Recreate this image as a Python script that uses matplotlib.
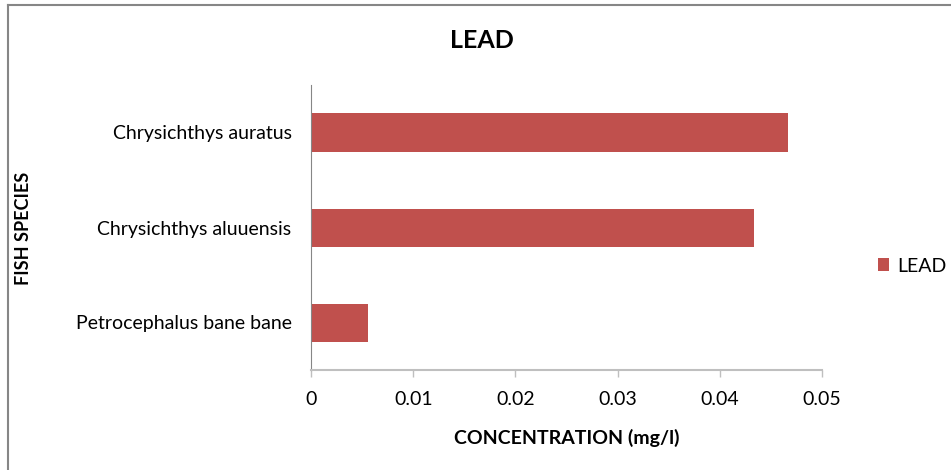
import matplotlib
matplotlib.use("Agg")
import matplotlib.pyplot as plt
from matplotlib.lines import Line2D

categories = ["Petrocephalus bane bane", "Chrysichthys aluuensis", "Chrysichthys auratus"]
values = [0.0056, 0.0433, 0.0467]
xticks = [0, 0.01, 0.02, 0.03, 0.04, 0.05]
xticklabels = ["0", "0.01", "0.02", "0.03", "0.04", "0.05"]
series_name = "LEAD"

plt.rcParams['font.family'] = ['Lato', 'DejaVu Sans']

fig = plt.figure(figsize=(9.51, 4.70), dpi=100)
W, H = 951, 470
ax = fig.add_axes([311 / W, (H - 370) / H, (822 - 311) / W, (370 - 85) / H])

ax.barh(range(len(categories)), values, height=0.4, color="#C0504D", label=series_name)
ax.set_xlim(0, 0.05)
ax.set_ylim(-0.5, len(categories) - 0.5)
ax.set_xticks(xticks)
ax.set_xticklabels(xticklabels, fontsize=14)
ax.set_yticks(range(len(categories)))
ax.set_yticklabels(categories, fontsize=14)
ax.tick_params(axis='y', length=0, pad=14)
ax.tick_params(axis='x', length=5, color="#BFBFBF", width=1, pad=10)

for s in ["top", "right"]:
    ax.spines[s].set_visible(False)
ax.spines["left"].set_color("#868686")
ax.spines["bottom"].set_color("#BFBFBF")
ax.spines["bottom"].set_linewidth(1.5)

ax.set_xlabel("CONCENTRATION (mg/l)", fontsize=14, fontweight="bold", labelpad=15)
fig.text(24 / W, 1 - 228 / H, "FISH SPECIES", rotation=90, fontsize=13,
         fontweight="bold", ha="center", va="center")
fig.text(482 / W, 1 - 40 / H, "LEAD", fontsize=18, fontweight="bold",
         ha="center", va="center")

leg = fig.legend(handles=ax.containers[0][:1], labels=[series_name], loc="center left",
                 bbox_to_anchor=(860 / W, 1 - 266 / H), frameon=False, fontsize=14,
                 handlelength=0.6, handleheight=0.6, handletextpad=0.4)

# chart frame: left and top edges only
fig.add_artist(Line2D([7.5 / W, 7.5 / W], [0, 1 - 4.5 / H], transform=fig.transFigure,
                      color="#868686", linewidth=1.5))
fig.add_artist(Line2D([7.5 / W, 1], [1 - 4.5 / H, 1 - 4.5 / H], transform=fig.transFigure,
                      color="#868686", linewidth=1.5))

fig.savefig("out.png", dpi=100)
